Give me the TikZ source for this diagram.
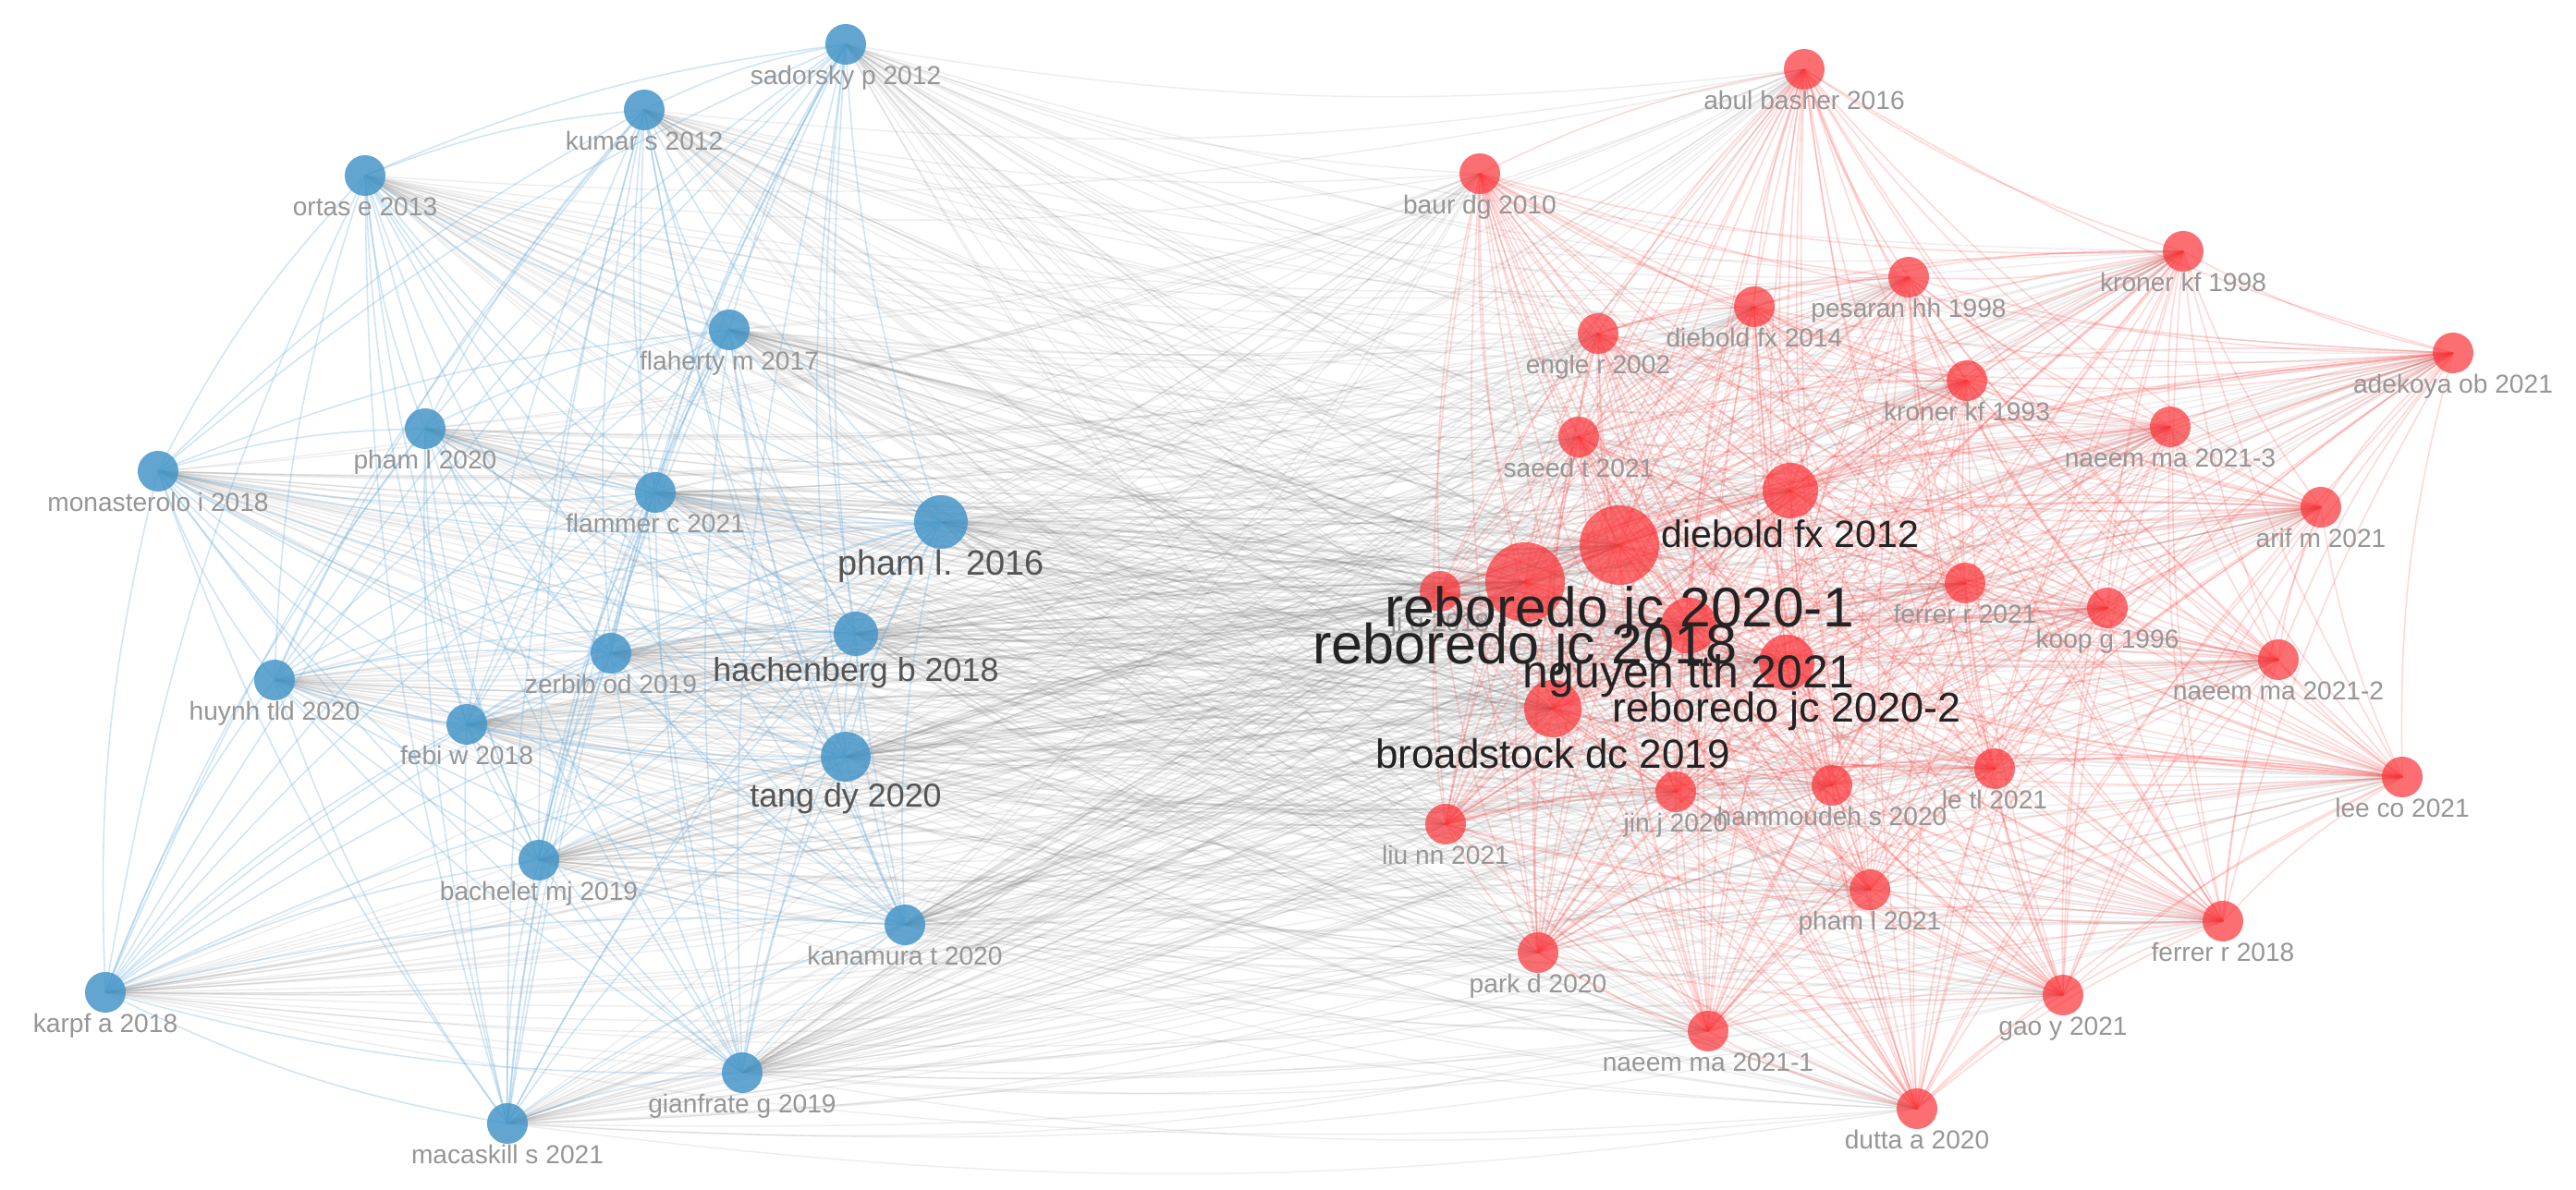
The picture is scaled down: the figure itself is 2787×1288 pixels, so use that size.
\documentclass[tikz,border=0pt]{standalone}
\usepackage{fontspec}
\setmainfont{Liberation Sans}
\pgfdeclarelayer{bgfill}
\pgfdeclarelayer{edges}
\pgfsetlayers{bgfill,edges,main}
\definecolor{bfill}{RGB}{70,150,200}
\definecolor{rfill}{RGB}{250,50,55}
\definecolor{bedgec}{RGB}{110,175,222}
\definecolor{redgec}{RGB}{255,60,60}
\definecolor{gedgec}{RGB}{100,100,100}
\definecolor{lsmall}{RGB}{150,150,150}
\definecolor{lmid}{RGB}{85,85,85}
\definecolor{lbig}{RGB}{35,35,35}
\begin{document}
\begin{tikzpicture}[x=0.01cm,y=-0.01cm,
  bn/.style={circle,fill=bfill,fill opacity=0.85,inner sep=0pt,minimum size=#1},
  bn/.default=0.44cm,
  rn/.style={circle,fill=rfill,fill opacity=0.7,inner sep=0pt,minimum size=#1},
  rn/.default=0.44cm,
  lbl/.style={anchor=north,inner sep=0pt,text=lsmall,font=\fontsize{8}{9}\selectfont},
  lmd/.style={anchor=north,inner sep=0pt,text=lmid,font=\fontsize{#1}{#1}\selectfont},
  lbg/.style={anchor=north,inner sep=0pt,text=lbig,font=\fontsize{#1}{#1}\selectfont},
  be/.style={draw=bedgec,draw opacity=0.32,line width=0.45pt},
  re/.style={draw=redgec,draw opacity=0.2,line width=0.45pt},
  ge/.style={draw=gedgec,draw opacity=0.11,line width=0.4pt},
  gs/.style={draw=gedgec,draw opacity=0.16,line width=0.5pt}]
\begin{pgfonlayer}{bgfill}
\fill[white] (0,0) rectangle (2787,1288);
\end{pgfonlayer}
\useasboundingbox (0,0) rectangle (2787,1288);
% ---- blue cluster nodes
\node[bn] (b1) at (915,48) {};
\node[bn] (b2) at (697,119) {};
\node[bn] (b3) at (395,190) {};
\node[bn] (b4) at (789,357) {};
\node[bn] (b5) at (460,464) {};
\node[bn] (b6) at (171,510) {};
\node[bn] (b7) at (709,533) {};
\node[bn=0.58cm] (b8) at (1018,565) {};
\node[bn=0.48cm] (b9) at (926,686) {};
\node[bn] (b10) at (661,707) {};
\node[bn] (b11) at (297,736) {};
\node[bn] (b12) at (505,784) {};
\node[bn=0.54cm] (b13) at (915,819) {};
\node[bn] (b14) at (583,931) {};
\node[bn] (b15) at (979,1001) {};
\node[bn] (b16) at (114,1074) {};
\node[bn] (b17) at (803,1161) {};
\node[bn] (b18) at (549,1216) {};
% ---- red cluster nodes
\node[rn] (r1) at (1952,75) {};
\node[rn] (r2) at (1601,188) {};
\node[rn] (r3) at (2065,300) {};
\node[rn] (r4) at (2362,272) {};
\node[rn] (r5) at (1898,332) {};
\node[rn] (r6) at (1729,361) {};
\node[rn] (r7) at (2128,412) {};
\node[rn] (r8) at (2654,382) {};
\node[rn] (r9) at (1708,473) {};
\node[rn] (r10) at (2348,462) {};
\node[rn=0.60cm] (r11) at (1937,531) {};
\node[rn] (r12) at (2511,549) {};
\node[rn=0.86cm] (r13) at (1752,590) {};
\node[rn=0.86cm] (r14) at (1650,630) {};
\node[rn] (r15) at (1558,640) {};
\node[rn] (r16) at (2126,631) {};
\node[rn] (r17) at (2280,658) {};
\node[rn] (r18) at (2465,714) {};
\node[rn=0.60cm] (r19) at (1827,677) {};
\node[rn=0.60cm] (r20) at (1933,717) {};
\node[rn=0.62cm] (r21) at (1680,767) {};
\node[rn] (r22) at (2599,841) {};
\node[rn] (r23) at (2158,832) {};
\node[rn] (r24) at (1813,857) {};
\node[rn] (r25) at (1982,850) {};
\node[rn] (r26) at (1564,892) {};
\node[rn] (r27) at (2023,963) {};
\node[rn] (r28) at (2405,997) {};
\node[rn] (r29) at (1664,1031) {};
\node[rn] (r30) at (2232,1077) {};
\node[rn] (r31) at (1848,1116) {};
\node[rn] (r32) at (2074,1200) {};
% ---- edges
\begin{pgfonlayer}{edges}
\foreach \i in {1,...,18}{\foreach \j in {1,...,32}{
  \draw[ge] (b\i.center) to[bend right=8] (r\j.center);}}
\foreach \i in {4,7,8,9,10,12,13,14,15,17}{\foreach \j in {13,14,19,20,21}{
  \draw[gs] (b\i.center) to[bend left=4] (r\j.center);}}
\foreach \i in {1,...,18}{\foreach \j in {1,...,18}{\ifnum\j>\i\relax
  \draw[be] (b\i.center) to[bend right=8] (b\j.center);\fi}}
\foreach \i in {1,...,32}{\foreach \j in {1,...,32}{\ifnum\j>\i\relax
  \draw[re] (r\i.center) to[bend right=8] (r\j.center);\fi}}
\end{pgfonlayer}
% ---- labels (blue)
\node[lbl] (tb1) at (b1.south) {sadorsky p 2012};
\node[lbl] (tb2) at (b2.south) {kumar s 2012};
\node[lbl] (tb3) at (b3.south) {ortas e 2013};
\node[lbl] (tb4) at (b4.south) {flaherty m 2017};
\node[lbl] (tb5) at (b5.south) {pham l 2020};
\node[lbl] (tb6) at (b6.south) {monasterolo i 2018};
\node[lbl] (tb7) at (b7.south) {flammer c 2021};
\node[lmd=10.8] (tb8) at (b8.south) {pham l. 2016};
\node[lmd=10.2] (tb9) at (b9.south) {hachenberg b 2018};
\node[lbl] (tb10) at (b10.south) {zerbib od 2019};
\node[lbl] (tb11) at (b11.south) {huynh tld 2020};
\node[lbl] (tb12) at (b12.south) {febi w 2018};
\node[lmd=10.2] (tb13) at (b13.south) {tang dy 2020};
\node[lbl] (tb14) at (b14.south) {bachelet mj 2019};
\node[lbl] (tb15) at (b15.south) {kanamura t 2020};
\node[lbl] (tb16) at (b16.south) {karpf a 2018};
\node[lbl] (tb17) at (b17.south) {gianfrate g 2019};
\node[lbl] (tb18) at (b18.south) {macaskill s 2021};
% ---- labels (red)
\node[lbl] (tr1) at (r1.south) {abul basher 2016};
\node[lbl] (tr2) at (r2.south) {baur dg 2010};
\node[lbl] (tr3) at (r3.south) {pesaran hh 1998};
\node[lbl] (tr4) at (r4.south) {kroner kf 1998};
\node[lbl] (tr5) at (r5.south) {diebold fx 2014};
\node[lbl] (tr6) at (r6.south) {engle r 2002};
\node[lbl] (tr7) at (r7.south) {kroner kf 1993};
\node[lbl] (tr8) at (r8.south) {adekoya ob 2021};
\node[lbl] (tr9) at (r9.south) {saeed t 2021};
\node[lbl] (tr10) at (r10.south) {naeem ma 2021-3};
\node[lbl] (tr12) at (r12.south) {arif m 2021};
\node[lbl] (tr15) at (r15.south) {ji q 2018};
\node[lbl] (tr16) at (r16.south) {ferrer r 2021};
\node[lbl] (tr17) at (r17.south) {koop g 1996};
\node[lbl] (tr18) at (r18.south) {naeem ma 2021-2};
\node[lbl] (tr22) at (r22.south) {lee co 2021};
\node[lbl] (tr23) at (r23.south) {le tl 2021};
\node[lbl] (tr24) at (r24.south) {jin j 2020};
\node[lbl] (tr25) at (r25.south) {hammoudeh s 2020};
\node[lbl] (tr26) at (r26.south) {liu nn 2021};
\node[lbl] (tr27) at (r27.south) {pham l 2021};
\node[lbl] (tr28) at (r28.south) {ferrer r 2018};
\node[lbl] (tr29) at (r29.south) {park d 2020};
\node[lbl] (tr30) at (r30.south) {gao y 2021};
\node[lbl] (tr31) at (r31.south) {naeem ma 2021-1};
\node[lbl] (tr32) at (r32.south) {dutta a 2020};
\node[lbg=11.7] (tr11) at (r11.south) {diebold fx 2012};
\node[lbg=12.5] (tr21) at (r21.south) {broadstock dc 2019};
\node[lbg=12.8] (tr20) at (r20.south) {reboredo jc 2020-2};
\node[lbg=14.2] (tr19) at (r19.south) {nguyen tth 2021};
\node[lbg=17.4] (tr14) at (r14.south) {reboredo jc 2018};
\node[lbg=17.2] (tr13) at (r13.south) {reboredo jc 2020-1};
\end{tikzpicture}
\end{document}
